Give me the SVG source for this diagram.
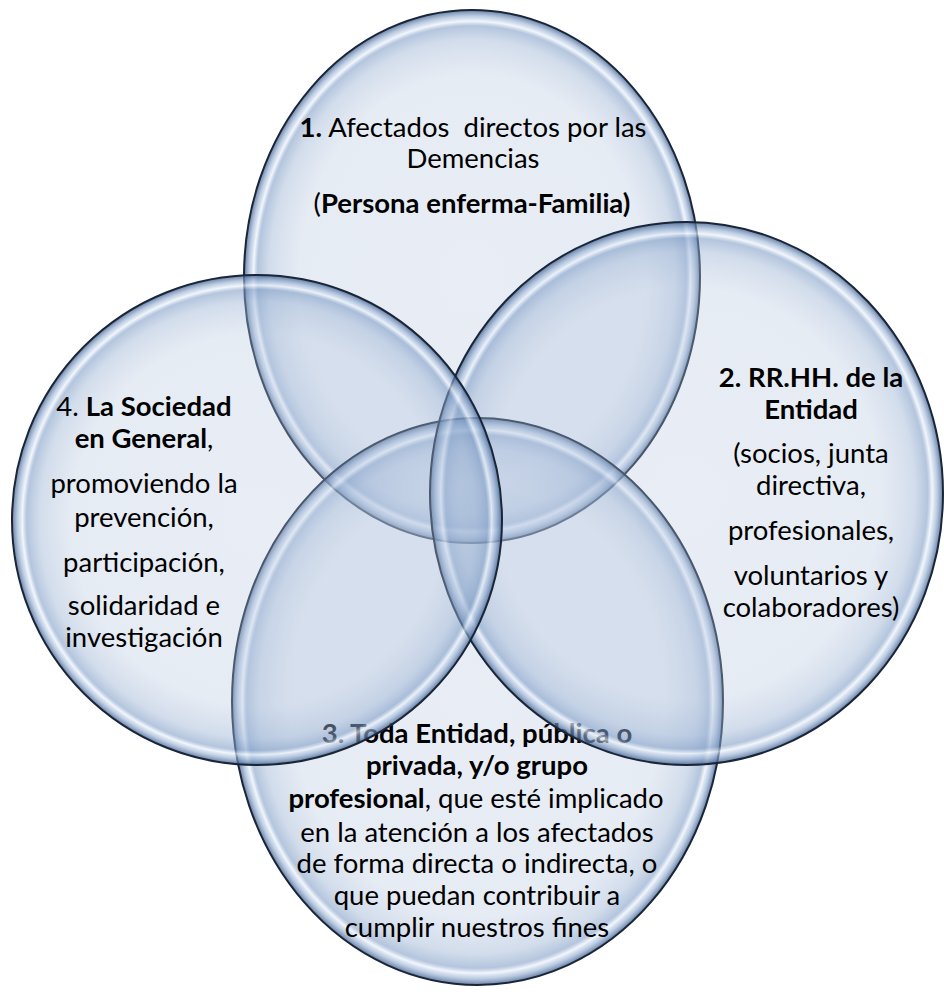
<svg xmlns="http://www.w3.org/2000/svg" width="944" height="999" viewBox="0 0 944 999">
<defs>
<radialGradient id="glass" cx="50%" cy="50%" r="50%">
<stop offset="0" stop-color="#b5c6df" stop-opacity="0.30"/>
<stop offset="0.76" stop-color="#b3c4de" stop-opacity="0.33"/>
<stop offset="0.89" stop-color="#9ab2d3" stop-opacity="0.45"/>
<stop offset="0.94" stop-color="#7d9bc5" stop-opacity="0.58"/>
<stop offset="0.958" stop-color="#edf3fb" stop-opacity="0.7"/>
<stop offset="0.975" stop-color="#9ab3d5" stop-opacity="0.6"/>
<stop offset="1" stop-color="#3e5e8e" stop-opacity="0.8"/>
</radialGradient>
</defs>
<style>
.c{fill:url(#glass);stroke:#1a2638;stroke-width:2}
text{font-family:Lato,"Liberation Sans",sans-serif;font-size:27.5px;fill:#000;text-anchor:middle}
.b{font-weight:bold}
</style>
<rect width="944" height="999" fill="#ffffff"/>
<g id="node1">
<ellipse class="c" cx="472" cy="276.5" rx="228" ry="266.5"/>
<text x="473" y="137" xml:space="preserve"><tspan class="b">1.</tspan> Afectados  directos por las</text>
<text x="473" y="168">Demencias</text>
<text x="472" y="213">(<tspan class="b">Persona enferma-Familia)</tspan></text>
</g>
<g id="node3">
<ellipse class="c" cx="477.5" cy="701.5" rx="245.5" ry="283.5"/>
<text x="477" y="743" class="b">3. Toda Entidad, pública o</text>
<text x="477" y="775" class="b">privada, y/o grupo</text>
<text x="476" y="808"><tspan class="b">profesional</tspan>, que esté implicado</text>
<text x="477" y="842">en la atención a los afectados</text>
<text x="477" y="873">de forma directa o indirecta, o</text>
<text x="477" y="905">que puedan contribuir a</text>
<text x="477" y="937">cumplir nuestros fines</text>
</g>
<g id="node2">
<ellipse class="c" cx="686.5" cy="493.5" rx="256.5" ry="271.5"/>
<text x="811" y="387" class="b">2. RR.HH. de la</text>
<text x="811" y="419" class="b">Entidad</text>
<text x="811" y="463">(socios, junta</text>
<text x="811" y="495">directiva,</text>
<text x="811" y="540">profesionales,</text>
<text x="811" y="585">voluntarios y</text>
<text x="811" y="617">colaboradores)</text>
</g>
<g id="node4">
<ellipse class="c" cx="257" cy="520" rx="245" ry="245"/>
<text x="144" y="416">4. <tspan class="b">La Sociedad</tspan></text>
<text x="144" y="448"><tspan class="b">en General</tspan>,</text>
<text x="144" y="493">promoviendo la</text>
<text x="144" y="527">prevención,</text>
<text x="144" y="572">participación,</text>
<text x="144" y="615">solidaridad e</text>
<text x="144" y="647">investigación</text>
</g>
<g id="connectors"/>
</svg>
